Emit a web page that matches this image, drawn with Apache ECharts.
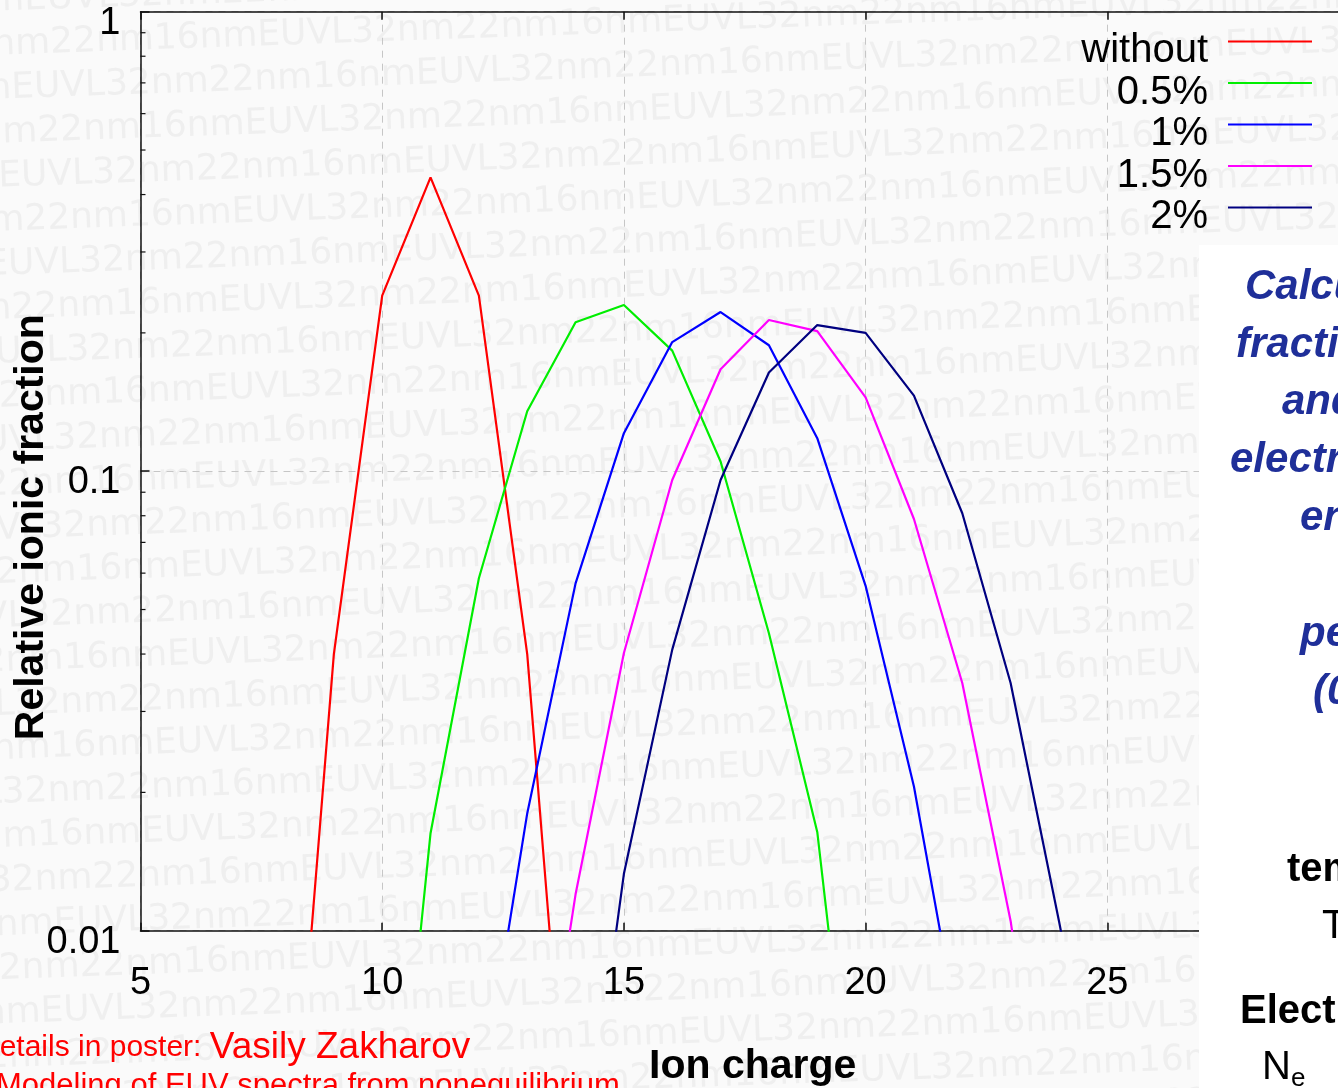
<!DOCTYPE html>
<html>
<head>
<meta charset="utf-8">
<script src="https://cdn.jsdelivr.net/npm/echarts@6/dist/echarts.min.js"></script>
<style>
html,body{margin:0;padding:0;background:#fafafa;overflow:hidden}
#c{width:1338px;height:1088px}
</style>
</head>
<body>
<div id="c"></div>
<script>
// ---- data ----
const charges = [8, 9, 10, 11, 12, 13, 14, 15, 16, 17, 18, 19, 20, 21, 22, 23, 24, 25];
const seriesNames = ['without', '0.5%', '1%', '1.5%', '2%'];
const fracWithout = [0.002, 0.040, 0.241, 0.436, 0.241, 0.040, 0.002, null, null, null, null, null, null, null, null, null, null, null];
const frac05 = [null, null, 0.0015, 0.0163, 0.0585, 0.135, 0.211, 0.230, 0.183, 0.105, 0.0444, 0.0164, 0.002, null, null, null, null, null];
const frac1 = [null, null, null, null, 0.004, 0.018, 0.057, 0.121, 0.191, 0.222, 0.188, 0.118, 0.0563, 0.0206, 0.0054, null, null, null];
const frac15 = [null, null, null, null, null, 0.0025, 0.012, 0.0402, 0.0957, 0.1667, 0.2133, 0.2018, 0.1448, 0.0787, 0.0346, 0.0105, 0.002, null];
const frac2 = [null, null, null, null, null, null, 0.0022, 0.0133, 0.0409, 0.0957, 0.164, 0.208, 0.200, 0.146, 0.081, 0.0346, 0.0105, 0.003];
const yMinorTicks = [0.02, 0.03, 0.04, 0.05, 0.06, 0.07, 0.08, 0.09, 0.2, 0.3, 0.4, 0.5, 0.6, 0.7, 0.8, 0.9];
const colors = ['#ff0000', '#00ee00', '#0000ff', '#ff00ff', '#000080'];
const allFractions = [fracWithout, frac05, frac1, frac15, frac2];

const FONT = '"Liberation Sans", Arial, Helvetica, sans-serif';

function pairs(arr) {
  return charges.map((q, i) => [q, arr[i]]);
}

// background watermark rows
const wmRows = [];
for (let i = 0; i < 28; i++) {
  wmRows.push({
    type: 'text',
    x: -((i * 173) % 330) - 60,
    y: i * 44 - 40,
    style: {
      text: '16nmEUVL32nm22nm'.repeat(6),
      fill: '#efefef',
      font: '36px "DejaVu Sans", sans-serif'
    }
  });
}

const chart = echarts.init(document.getElementById('c'), null, { renderer: 'canvas' });

const lineSeries = seriesNames.map((name, k) => ({
  name: name,
  type: 'line',
  data: pairs(allFractions[k]),
  symbol: 'none',
  connectNulls: false,
  clip: true,
  lineStyle: { color: colors[k], width: 2.2 },
  itemStyle: { color: colors[k] },
  z: 3
}));

const option = {
  backgroundColor: '#fafafa',
  animation: false,
  grid: {
    left: 140.5,
    top: 11.7,
    right: -11,
    bottom: 157.3,
    outerBoundsMode: 'none',
    containLabel: false
  },
  xAxis: [
    {
      type: 'value',
      position: 'bottom',
      min: 5,
      max: 30,
      interval: 5,
      name: 'Ion charge',
      nameLocation: 'middle',
      nameGap: 115,
      nameTextStyle: { fontFamily: FONT, fontSize: 41, fontWeight: 'bold', color: '#000', padding: [0, 0, 0, 16] },
      axisLine: { show: true, lineStyle: { color: '#111', width: 1.5 } },
      axisTick: { show: true, inside: true, length: 8, lineStyle: { color: '#111', width: 1.5 } },
      axisLabel: { show: true, margin: 34, fontFamily: FONT, fontSize: 38, color: '#000' },
      splitLine: { show: true, lineStyle: { color: '#c6c6c6', width: 1, type: [7, 6] } }
    },
    {
      type: 'value',
      position: 'top',
      min: 5,
      max: 30,
      interval: 5,
      axisLine: { show: true, lineStyle: { color: '#111', width: 1.5 } },
      axisTick: { show: true, inside: true, length: 8, lineStyle: { color: '#111', width: 1.5 } },
      axisLabel: { show: false },
      splitLine: { show: false }
    }
  ],
  yAxis: [
    {
      type: 'log',
      logBase: 10,
      min: 0.01,
      max: 1,
      name: 'Relative ionic fraction',
      nameLocation: 'middle',
      nameGap: 88,
      nameMoveOverlap: false,
      nameTextStyle: { fontFamily: FONT, fontSize: 41, fontWeight: 'bold', color: '#000', padding: [0, 112, 0, 0] },
      axisLine: { show: true, lineStyle: { color: '#111', width: 1.5 } },
      axisTick: { show: true, inside: true, length: 9, lineStyle: { color: '#111', width: 1.5 } },
      axisLabel: {
        show: true, margin: 20, fontFamily: FONT, fontSize: 38, color: '#000',
        formatter: function (v) { return '{t|' + String(+v.toPrecision(3)) + '}'; },
        rich: { t: { fontFamily: FONT, fontSize: 38, color: '#000', lineHeight: 38, padding: [23, 0, 0, 0] } }
      },
      splitLine: { show: true, lineStyle: { color: '#c6c6c6', width: 1, type: [7, 6] } }
    }
  ],
  legend: {
    data: seriesNames,
    orient: 'vertical',
    align: 'right',
    right: 26,
    top: 12,
    padding: 0,
    itemGap: -17.5,
    itemWidth: 84,
    itemHeight: 2,
    icon: 'rect',
    formatter: function (name) { return '{t|' + name + '}'; },
    textStyle: {
      fontFamily: FONT, fontSize: 40, color: '#000',
      rich: { t: { fontFamily: FONT, fontSize: 40, color: '#000', lineHeight: 23.5, padding: [19, 15, 0, 0] } }
    }
  },
  series: lineSeries.concat([
    {
      name: 'minorTicks',
      type: 'custom',
      silent: true,
      data: yMinorTicks.map(v => [5, v]),
      renderItem: function (params, api) {
        const p = api.coord([api.value(0), api.value(1)]);
        return {
          type: 'line',
          shape: { x1: p[0], y1: p[1], x2: p[0] + 5, y2: p[1] },
          style: { stroke: '#111', lineWidth: 1.2 }
        };
      },
      z: 2
    }
  ]),
  graphic: [
    { type: 'group', z: -1, rotation: 0.035, originX: 669, originY: 544, silent: true, children: wmRows },
    { type: 'rect', z: 100, silent: true, shape: { x: 1199, y: 245, width: 200, height: 900 }, style: { fill: '#ffffff' } },
    { type: 'text', z: 101, x: 1245, y: 287, style: { text: 'Calculated ionic', font: 'italic bold 42px ' + FONT, fill: '#1f2f99', verticalAlign: 'middle' } },
    { type: 'text', z: 101, x: 1236, y: 345, style: { text: 'fractions without', font: 'italic bold 42px ' + FONT, fill: '#1f2f99', verticalAlign: 'middle' } },
    { type: 'text', z: 101, x: 1282, y: 402, style: { text: 'and with', font: 'italic bold 42px ' + FONT, fill: '#1f2f99', verticalAlign: 'middle' } },
    { type: 'text', z: 101, x: 1230, y: 460, style: { text: 'electrons of high', font: 'italic bold 42px ' + FONT, fill: '#1f2f99', verticalAlign: 'middle' } },
    { type: 'text', z: 101, x: 1300, y: 518, style: { text: 'energy', font: 'italic bold 42px ' + FONT, fill: '#1f2f99', verticalAlign: 'middle' } },
    { type: 'text', z: 101, x: 1300, y: 634, style: { text: 'percentage', font: 'italic bold 42px ' + FONT, fill: '#1f2f99', verticalAlign: 'middle' } },
    { type: 'text', z: 101, x: 1313, y: 692, style: { text: '(0.5-2%)', font: 'italic bold 42px ' + FONT, fill: '#1f2f99', verticalAlign: 'middle' } },
    { type: 'text', z: 101, x: 1287, y: 870, style: { text: 'temperature', font: 'bold 40px ' + FONT, fill: '#000', verticalAlign: 'middle' } },
    { type: 'text', z: 101, x: 1322, y: 927, style: { text: 'Te = 30 eV', font: '40px ' + FONT, fill: '#000', verticalAlign: 'middle' } },
    { type: 'text', z: 101, x: 1240, y: 1012, style: { text: 'Electron density', font: 'bold 40px ' + FONT, fill: '#000', verticalAlign: 'middle' } },
    { type: 'text', z: 101, x: 1262, y: 1068, style: {
        text: 'N{sub|e}', font: '40px ' + FONT, fill: '#000', verticalAlign: 'middle',
        rich: { sub: { fontSize: 26, fontFamily: FONT, fill: '#000', padding: [22, 0, 0, 0] } }
      } },
    { type: 'text', z: 10, x: -22, y: 1048, style: {
        text: 'Details in poster: {big|Vasily Zakharov}', font: '30px ' + FONT, fill: '#ff0000', verticalAlign: 'middle',
        rich: { big: { fontSize: 37, fontFamily: FONT, fill: '#ff0000' } }
      } },
    { type: 'text', z: 10, x: -4, y: 1086, style: { text: 'Modeling of EUV spectra from nonequilibrium', font: '31px ' + FONT, fill: '#ff0000', verticalAlign: 'middle' } }
  ]
};

chart.setOption(option);
</script>
</body>
</html>
